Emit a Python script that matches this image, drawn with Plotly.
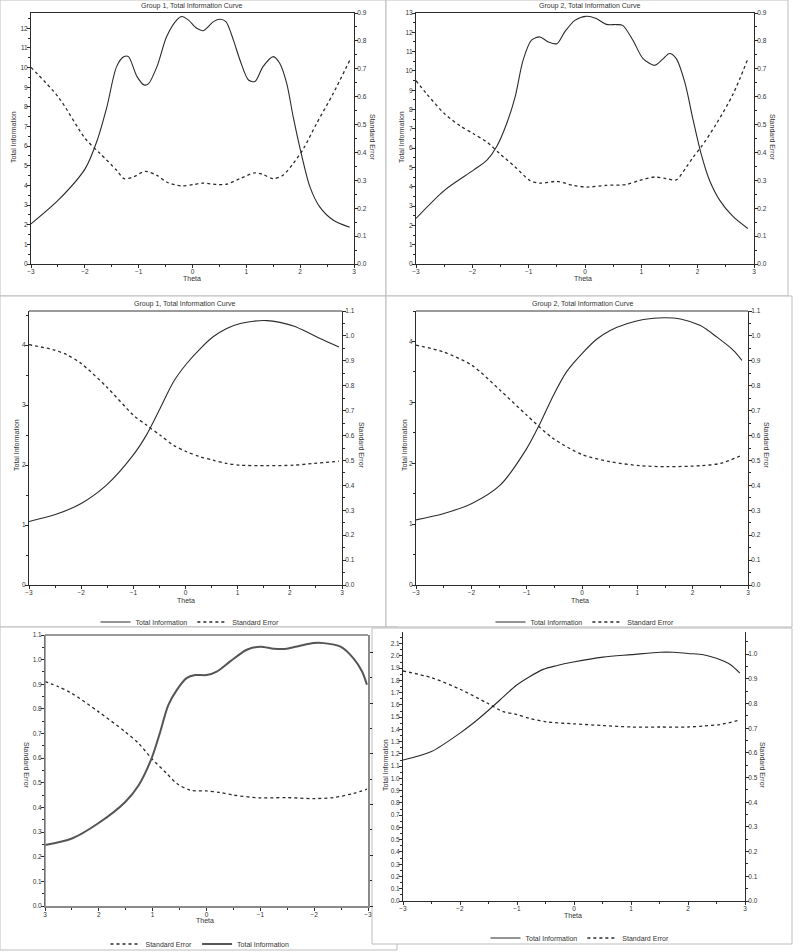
# Six test information curves (Total Information + Standard Error), two groups per row
import plotly.graph_objects as go

# ---- data ----
# row 1, group 1
g1a_info_theta = [-3, -2.49, -1.99, -1.77, -1.59, -1.41, -1.27, -1.19, -1.03, -0.9, -0.82, -0.66, -0.48, -0.29,
                  -0.2, -0.08, 0.08, 0.2, 0.39, 0.51, 0.62, 0.76, 0.88, 1.04, 1.16, 1.31, 1.5, 1.62, 1.75, 1.87,
                  1.99, 2.18, 2.36, 2.61, 2.92]
g1a_info = [2.04, 3.26, 4.87, 6.3, 8.0, 10.05, 10.56, 10.56, 9.54, 9.12, 9.17, 10.05, 11.58, 12.43, 12.6, 12.43,
            12.0, 11.88, 12.34, 12.46, 12.34, 11.4, 10.4, 9.37, 9.29, 10.05, 10.56, 10.22, 9.2, 7.5, 5.98, 3.94,
            2.92, 2.24, 1.87]
g1a_se_theta = [-3, -2.49, -1.99, -1.71, -1.41, -1.27, -1.1, -0.88, -0.66, -0.48, -0.2, 0.02, 0.2, 0.45, 0.63,
                0.88, 1.16, 1.31, 1.5, 1.68, 1.87, 2.06, 2.3, 2.61, 2.92]
g1a_se = [0.705, 0.598, 0.449, 0.395, 0.336, 0.306, 0.312, 0.332, 0.318, 0.294, 0.28, 0.285, 0.29, 0.285, 0.286,
          0.306, 0.327, 0.321, 0.306, 0.318, 0.36, 0.413, 0.502, 0.61, 0.73]

# row 1, group 2
g2a_info_theta = [-3, -2.49, -1.98, -1.74, -1.57, -1.39, -1.24, -1.1, -0.95, -0.8, -0.65, -0.5, -0.36, -0.18,
                  0.03, 0.2, 0.38, 0.56, 0.67, 0.85, 1.03, 1.24, 1.39, 1.5, 1.62, 1.77, 1.92, 2.06, 2.21, 2.39,
                  2.63, 2.89]
g2a_info = [2.36, 3.83, 4.86, 5.38, 6.07, 7.28, 8.66, 10.55, 11.59, 11.76, 11.5, 11.41, 12.02, 12.62, 12.83,
            12.71, 12.41, 12.4, 12.36, 11.59, 10.64, 10.29, 10.64, 10.9, 10.64, 9.43, 7.45, 5.72, 4.34, 3.31,
            2.45, 1.84]
g2a_se_theta = [-3, -2.81, -2.49, -2.22, -1.98, -1.74, -1.51, -1.24, -0.98, -0.8, -0.5, -0.21, 0.03, 0.38, 0.73,
                0.97, 1.24, 1.44, 1.62, 1.8, 1.92, 2.06, 2.33, 2.63, 2.89]
g2a_se = [0.657, 0.61, 0.538, 0.496, 0.467, 0.437, 0.395, 0.348, 0.3, 0.29, 0.296, 0.282, 0.276, 0.282, 0.285,
          0.3, 0.312, 0.306, 0.302, 0.348, 0.383, 0.419, 0.502, 0.61, 0.735]

# row 2, group 1
g1b_info_theta = [-3, -2.51, -2.0, -1.51, -1.0, -0.75, -0.49, -0.23, 0.02, 0.28, 0.53, 0.79, 1.05, 1.3, 1.56,
                  1.81, 2.07, 2.33, 2.58, 2.94]
g1b_info = [1.06, 1.17, 1.36, 1.67, 2.17, 2.5, 2.94, 3.39, 3.69, 3.94, 4.14, 4.28, 4.36, 4.4, 4.41, 4.38, 4.32,
            4.22, 4.11, 3.97]
g1b_se_theta = [-3, -2.51, -2.28, -2.0, -1.51, -1.0, -0.75, -0.49, -0.23, 0.02, 0.28, 0.53, 0.79, 1.05, 1.56,
                2.07, 2.46, 2.94]
g1b_se = [0.965, 0.943, 0.925, 0.889, 0.795, 0.682, 0.642, 0.602, 0.561, 0.535, 0.515, 0.501, 0.488, 0.481,
          0.479, 0.481, 0.488, 0.497]

# row 2, group 2
g2b_info_theta = [-3, -2.51, -1.99, -1.48, -1.0, -0.76, -0.52, -0.28, 0.0, 0.27, 0.51, 0.81, 1.11, 1.48, 1.78,
                  2.14, 2.44, 2.74, 2.89]
g2b_info = [1.07, 1.17, 1.34, 1.64, 2.24, 2.65, 3.11, 3.5, 3.8, 4.04, 4.18, 4.29, 4.36, 4.39, 4.37, 4.26, 4.07,
            3.85, 3.69]
g2b_se_theta = [-3, -2.51, -1.99, -1.48, -1.0, -0.52, 0.0, 0.51, 1.05, 1.53, 2.14, 2.5, 2.89]
g2b_se = [0.963, 0.936, 0.882, 0.782, 0.682, 0.588, 0.524, 0.495, 0.479, 0.475, 0.479, 0.488, 0.521]

# row 3, left (mirrored picture: theta runs 3 -> -3)
g1c_info_theta = [3.0, 2.5, 2.01, 1.51, 1.26, 1.02, 0.86, 0.71, 0.55, 0.37, 0.21, 0.0, -0.19, -0.44, -0.75,
                  -1.0, -1.25, -1.49, -1.74, -1.99, -2.18, -2.49, -2.73, -2.89, -2.98]
g1c_info = [1.2, 1.33, 1.63, 2.05, 2.38, 2.91, 3.43, 3.96, 4.26, 4.49, 4.55, 4.55, 4.62, 4.82, 5.05, 5.11, 5.07,
            5.07, 5.13, 5.18, 5.18, 5.11, 4.88, 4.62, 4.36]
g1c_se_theta = [3.0, 2.75, 2.5, 2.01, 1.51, 1.26, 1.02, 0.74, 0.55, 0.3, 0.0, -0.25, -0.5, -1.0, -1.49, -1.99,
                -2.36, -2.73, -2.98]
g1c_se = [0.911, 0.89, 0.863, 0.789, 0.707, 0.66, 0.599, 0.538, 0.497, 0.47, 0.467, 0.461, 0.45, 0.439, 0.44,
          0.436, 0.44, 0.457, 0.474]

# row 3, right
g2c_info_theta = [-3, -2.5, -2.0, -1.77, -1.54, -1.3, -1.01, -0.78, -0.54, -0.31, -0.01, 0.51, 1.01, 1.51, 1.74,
                  2.0, 2.27, 2.5, 2.74, 2.91]
g2c_info = [1.15, 1.22, 1.37, 1.45, 1.54, 1.64, 1.76, 1.83, 1.89, 1.92, 1.95, 1.99, 2.01, 2.03, 2.03, 2.02, 2.01,
            1.98, 1.93, 1.86]
g2c_se_theta = [-3, -2.5, -2.0, -1.54, -1.24, -1.01, -0.78, -0.48, -0.01, 0.51, 1.01, 1.51, 2.0, 2.27, 2.56, 2.91]
g2c_se = [0.932, 0.905, 0.858, 0.804, 0.767, 0.756, 0.74, 0.726, 0.718, 0.711, 0.705, 0.705, 0.705, 0.709,
          0.715, 0.733]

W, H = 800, 952
INK = '#2b2b2b'
FRAME = '#bdbdbd'
FONT = dict(family='Liberation Sans, Arial, sans-serif', size=7, color='#333')
TICKFONT = dict(family='Liberation Sans, Arial, sans-serif', size=6.5, color='#333')


def xd(a, b):
    return [a / W, b / W]


def yd(top, bot):
    return [1 - bot / H, 1 - top / H]


def px(x):
    return x / W


def py(y):
    return 1 - y / H


fig = go.Figure()

# plot boxes in pixels: (left, right, top, bottom)
boxes = [(31, 354, 13, 264), (416, 754, 13, 264),
         (29, 342, 311, 585), (416, 748, 311, 585),
         (45, 368, 635, 906), (403, 745, 632, 901)]

# (left axis range, dtick, minor, right axis range, dtick, minor)
scales = [([0, 12.78], 1, 0.5, [0, 0.9], 0.1, 0.05),
          ([0, 13.0], 1, 0.5, [0, 0.9], 0.1, 0.05),
          ([0, 4.57], 1, 0.5, [0, 1.1], 0.1, 0.05),
          ([0, 4.5], 1, 0.5, [0, 1.1], 0.1, 0.05),
          ([0, 1.1], 0.1, 0.05, [0, 5.34], 1, 0.5),
          ([0, 2.195], 0.1, 0.05, [0, 1.09], 0.1, 0.05)]

series = [(g1a_info_theta, g1a_info, g1a_se_theta, g1a_se),
          (g2a_info_theta, g2a_info, g2a_se_theta, g2a_se),
          (g1b_info_theta, g1b_info, g1b_se_theta, g1b_se),
          (g2b_info_theta, g2b_info, g2b_se_theta, g2b_se),
          (g1c_info_theta, g1c_info, g1c_se_theta, g1c_se),
          (g2c_info_theta, g2c_info, g2c_se_theta, g2c_se)]

legends = [None, None, 'legend', 'legend2', 'legend3', 'legend4']

axis_common = dict(showline=True, linecolor=INK, linewidth=1, ticks='outside', ticklen=3, tickwidth=1,
                   tickcolor=INK, showgrid=False, zeroline=False, tickfont=TICKFONT, automargin=False,
                   ticklabelstandoff=-2)

layout = {}
for i, (box, sc, s, leg) in enumerate(zip(boxes, scales, series, legends)):
    n = i + 1
    xa = 'xaxis' if n == 1 else 'xaxis%d' % n
    yl, yr = 2 * n - 1, 2 * n
    yla = 'yaxis' if yl == 1 else 'yaxis%d' % yl
    yra = 'yaxis%d' % yr
    xref = 'x' if n == 1 else 'x%d' % n
    ylref = 'y' if yl == 1 else 'y%d' % yl
    yrref = 'y%d' % yr
    mirrored = (n == 5)

    layout[xa] = dict(axis_common, domain=xd(box[0], box[1]), anchor=ylref,
                      range=[3, -3] if mirrored else [-3, 3], dtick=1, tick0=0,
                      minor=dict(ticks='outside', ticklen=2, dtick=0.5, tickcolor=INK),
                      mirror=(n <= 2))
    layout[yla] = dict(axis_common, domain=yd(box[2], box[3]), anchor=xref, range=sc[0], dtick=sc[1], tick0=0,
                       tickformat='d' if sc[1] >= 1 else '.1f',
                       minor=dict(ticks='outside', ticklen=2, dtick=sc[2], tickcolor=INK))
    layout[yra] = dict(axis_common, domain=yd(box[2], box[3]), anchor=xref, overlaying=ylref, side='right',
                       range=sc[3], dtick=sc[4], tick0=0,
                       tickformat='d' if sc[4] >= 1 else '.1f',
                       showticklabels=not mirrored,
                       minor=dict(ticks='outside', ticklen=2, dtick=sc[5], tickcolor=INK))
    if mirrored:
        layout[xa]['linecolor'] = '#8a8a8a'
        layout[xa]['linewidth'] = 1.5
        layout[yra]['linecolor'] = '#8a8a8a'
        layout[yra]['linewidth'] = 2

    info_y = yrref if mirrored else ylref
    se_y = ylref if mirrored else yrref
    info_tr = go.Scatter(x=s[0], y=s[1], xaxis=xref, yaxis=info_y, mode='lines', name='Total Information',
                         line=dict(color='#555' if mirrored else INK, width=2 if mirrored else 1.1,
                                   shape='spline', smoothing=0.8),
                         showlegend=leg is not None)
    se_tr = go.Scatter(x=s[2], y=s[3], xaxis=xref, yaxis=se_y, mode='lines', name='Standard Error',
                       line=dict(color=INK, width=1.3, dash='dot', shape='spline', smoothing=0.8),
                       showlegend=leg is not None)
    if leg is not None:
        info_tr.legend = leg
        se_tr.legend = leg
    if mirrored:
        fig.add_trace(se_tr)
        fig.add_trace(info_tr)
    else:
        fig.add_trace(info_tr)
        fig.add_trace(se_tr)

# legends under rows 2 and 3
leg_pos = {'legend': (190, 622), 'legend2': (585, 622), 'legend3': (200, 944), 'legend4': (580, 938)}
for key, (lx, ly) in leg_pos.items():
    layout[key] = dict(orientation='h', x=px(lx), y=py(ly), xanchor='center', yanchor='middle',
                       font=FONT, bgcolor='rgba(0,0,0,0)', itemwidth=30, tracegroupgap=0,
                       traceorder='normal')

# panel frames, the last one sits on top of the mirrored panel
frames = [(0, 0, 386, 296), (386, 0, 788, 296), (0, 296, 386, 627), (386, 296, 792, 627),
          (0, 627, 397, 950), (372, 628, 792, 944)]
shapes = []
for j, (a, b, c, d) in enumerate(frames):
    shapes.append(dict(type='rect', xref='paper', yref='paper', x0=px(a), y0=py(d), x1=px(c), y1=py(b),
                       line=dict(color=FRAME, width=1), fillcolor='white', layer='below'))
# grey top edges of the plot boxes in rows 2 and 3
for (l, r, t, b) in boxes[2:5]:
    shapes.append(dict(type='line', xref='paper', yref='paper', x0=px(l), x1=px(r), y0=py(t), y1=py(t),
                       line=dict(color='#9a9a9a', width=2)))
shapes.append(dict(type='line', xref='paper', yref='paper', x0=px(45), x1=px(45), y0=py(635), y1=py(906),
                   line=dict(color='#8a8a8a', width=1.5)))

# titles and axis titles
texts = [
    ('Group 1, Total Information Curve', 192, 6, 0), ('Group 2, Total Information Curve', 590, 6, 0),
    ('Group 1, Total Information Curve', 185, 304, 0), ('Group 2, Total Information Curve', 583, 304, 0),
    ('Total Information', 14, 137, -90), ('Standard Error', 372, 137, 90), ('Theta', 192, 278, 0),
    ('Total Information', 402, 137, -90), ('Standard Error', 772, 137, 90), ('Theta', 583, 278, 0),
    ('Total Information', 16, 445, -90), ('Standard Error', 362, 445, 90), ('Theta', 186, 600, 0),
    ('Total Information', 404, 445, -90), ('Standard Error', 767, 445, 90), ('Theta', 580, 600, 0),
    ('Standard Error', 27, 765, 90), ('Theta', 205, 920, 0),
    ('Total Information', 385, 765, -90), ('Standard Error', 763, 765, 90), ('Theta', 573, 915, 0),
]
annotations = [dict(text=t, x=px(x), y=py(y), xref='paper', yref='paper', showarrow=False, textangle=a,
                    font=FONT, xanchor='center', yanchor='middle') for t, x, y, a in texts]

fig.update_layout(layout)
fig.update_layout(template='none', width=W, height=H,
                  margin=dict(l=0, r=0, t=0, b=0, pad=0, autoexpand=False),
                  paper_bgcolor='white', plot_bgcolor='rgba(0,0,0,0)', shapes=shapes,
                  annotations=annotations, font=FONT)

# drop the page's default body margin so the figure sits at the window's corner
fig.write_html("out.html", config={'displayModeBar': False},
               post_script="document.body.style.margin='0';")
